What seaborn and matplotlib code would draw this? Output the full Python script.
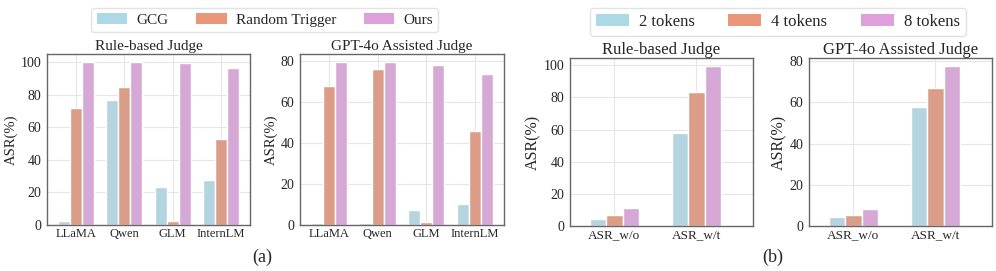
import pandas as pd
import matplotlib.pyplot as plt
import seaborn as sns
from matplotlib.patches import Patch

# -------------------------------
# Data
# -------------------------------
models = ['LLaMA', 'Qwen', 'GLM', 'InternLM']
methods = ['GCG', 'Random Trigger', 'Ours']

rule_gcg = [2.5, 77.0, 23.5, 27.5]
rule_random = [72.0, 84.5, 2.5, 53.0]
rule_ours = [100.0, 100.0, 99.3, 96.7]

gpt_gcg = [0.8, 0.8, 7.5, 10.0]
gpt_random = [67.5, 76.0, 1.7, 46.0]
gpt_ours = [79.3, 79.3, 77.7, 73.3]

asr_cats = ['ASR_w/o', 'ASR_w/t']
token_labels = ['2 tokens', '4 tokens', '8 tokens']

rule_2tok = [4.3, 57.8]
rule_4tok = [6.8, 83.5]
rule_8tok = [11.0, 99.5]

gpt_2tok = [4.2, 57.6]
gpt_4tok = [5.4, 66.7]
gpt_8tok = [8.4, 77.6]

colors = ['#ADD8E6', '#E9967A', '#DDA0DD']


def long_df(cats, names, series):
    rows = []
    for name, vals in zip(names, series):
        for c, v in zip(cats, vals):
            rows.append({'cat': c, 'group': name, 'val': v})
    return pd.DataFrame(rows)


df_a1 = long_df(models, methods, [rule_gcg, rule_random, rule_ours])
df_a2 = long_df(models, methods, [gpt_gcg, gpt_random, gpt_ours])
df_b1 = long_df(asr_cats, token_labels, [rule_2tok, rule_4tok, rule_8tok])
df_b2 = long_df(asr_cats, token_labels, [gpt_2tok, gpt_4tok, gpt_8tok])

# -------------------------------
# Style
# -------------------------------
sns.set_style('whitegrid')
plt.rcParams['font.family'] = ['Liberation Serif', 'DejaVu Serif']
plt.rcParams['grid.color'] = '#e6e6e6'
plt.rcParams['grid.linewidth'] = 0.8

fig = plt.figure(figsize=(9.96, 2.71), dpi=100)
ax1 = fig.add_axes([0.0472, 0.1697, 0.2038, 0.631])
ax2 = fig.add_axes([0.3012, 0.1697, 0.2048, 0.631])
ax3 = fig.add_axes([0.5723, 0.166, 0.1837, 0.62])
ax4 = fig.add_axes([0.8123, 0.166, 0.1837, 0.62])

panels = [
    (ax1, df_a1, 'Rule-based Judge', 0.75, (-0.6, 3.6), 11, 9, 10, 10.5),
    (ax2, df_a2, 'GPT-4o Assisted Judge', 0.75, (-0.6, 3.6), 11, 9, 10, 10.5),
    (ax3, df_b1, 'Rule-based Judge', 0.6, (-0.54, 1.69), 12, 9.5, 10, 11.5),
    (ax4, df_b2, 'GPT-4o Assisted Judge', 0.6, (-0.54, 1.69), 12, 9.5, 10, 11.5),
]

for ax, d, title, w, xl, tfs, xfs, yfs, lfs in panels:
    sns.barplot(data=d, x='cat', y='val', hue='group', palette=colors,
                width=w, edgecolor='white', linewidth=1, ax=ax)
    ax.legend_.remove()
    ax.set_title(title, fontsize=tfs, pad=3)
    ax.set_xlabel('')
    ax.set_ylabel('ASR(%)', fontsize=lfs, labelpad=2)
    ax.set_xlim(*xl)
    ax.margins(y=0.05)
    ax.set_ylim(bottom=0)
    ax.tick_params(axis='x', labelsize=xfs, length=0, pad=2)
    ax.tick_params(axis='y', labelsize=yfs, length=0, pad=4)
    ax.grid(True, axis='both')
    ax.set_axisbelow(True)
    for s in ax.spines.values():
        s.set_color('#666666')
        s.set_linewidth(1.0)

# -------------------------------
# Legends and panel labels
# -------------------------------
handles = [Patch(facecolor=c, edgecolor='none') for c in colors]
fig.legend(handles, methods, loc='center', bbox_to_anchor=(0.266, 0.926), ncol=3,
           fontsize=11, frameon=True, edgecolor='#dddddd', fancybox=True,
           handlelength=2.0, handletextpad=0.6, columnspacing=1.8,
           borderpad=0.35)
fig.legend(handles, token_labels, loc='center', bbox_to_anchor=(0.781, 0.919), ncol=3,
           fontsize=12, frameon=True, edgecolor='#dddddd', fancybox=True,
           handlelength=2.0, handletextpad=0.6, columnspacing=2.0,
           borderpad=0.35)

fig.text(0.263, 0.052, '(a)', ha='center', va='center', fontsize=13)
fig.text(0.776, 0.052, '(b)', ha='center', va='center', fontsize=13)

fig.savefig('out.png', dpi=100)
